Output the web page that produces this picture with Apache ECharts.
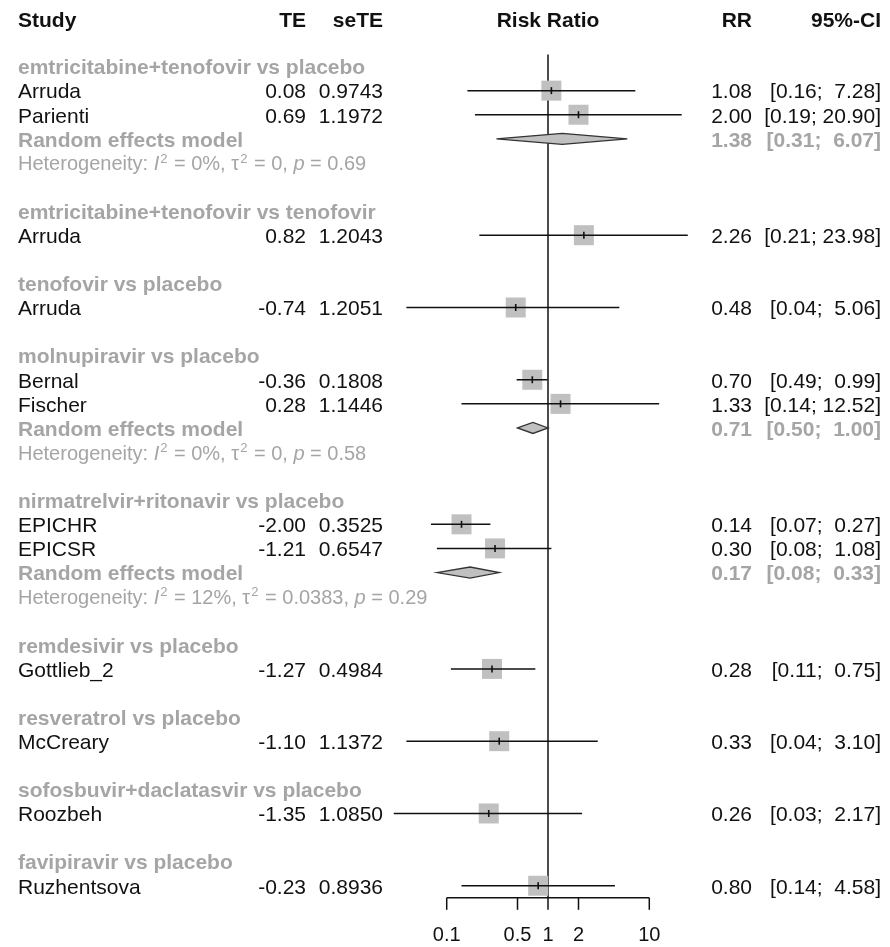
<!DOCTYPE html>
<html>
<head>
<meta charset="utf-8">
<title>Risk Ratio forest plot</title>
<script src="https://cdn.jsdelivr.net/npm/echarts@6/dist/echarts.min.js"></script>
<style>
    html, body { margin: 0; padding: 0; background: #fff; }
    #chart { width: 890px; height: 947px; }
</style>
</head>
<body>
<div id="chart"></div>
<script>
// comparisons, in plotting order
var groupNames = [
    'emtricitabine+tenofovir vs placebo',
    'emtricitabine+tenofovir vs tenofovir',
    'tenofovir vs placebo',
    'molnupiravir vs placebo',
    'nirmatrelvir+ritonavir vs placebo',
    'remdesivir vs placebo',
    'resveratrol vs placebo',
    'sofosbuvir+daclatasvir vs placebo',
    'favipiravir vs placebo'
];

// single studies
var studyNames = ['Arruda', 'Parienti', 'Arruda', 'Arruda', 'Bernal', 'Fischer', 'EPICHR', 'EPICSR', 'Gottlieb_2', 'McCreary', 'Roozbeh', 'Ruzhentsova'];
var studyGroup = [0, 0, 1, 2, 3, 3, 4, 4, 5, 6, 7, 8];
var studyTE = [0.08, 0.69, 0.82, -0.74, -0.36, 0.28, -2.00, -1.21, -1.27, -1.10, -1.35, -0.23];
var studySeTE = [0.9743, 1.1972, 1.2043, 1.2051, 0.1808, 1.1446, 0.3525, 0.6547, 0.4984, 1.1372, 1.0850, 0.8936];
var studyRR = [1.08, 2.00, 2.26, 0.48, 0.70, 1.33, 0.14, 0.30, 0.28, 0.33, 0.26, 0.80];
var studyLower = [0.16, 0.19, 0.21, 0.04, 0.49, 0.14, 0.07, 0.08, 0.11, 0.04, 0.03, 0.14];
var studyUpper = [7.28, 20.90, 23.98, 5.06, 0.99, 12.52, 0.27, 1.08, 0.75, 3.10, 2.17, 4.58];

// random effects models (only for comparisons with 2 studies)
var pooledGroup = [0, 3, 4];
var pooledRR = [1.38, 0.71, 0.17];
var pooledLower = [0.31, 0.50, 0.08];
var pooledUpper = [6.07, 1.00, 0.33];
var hetI2 = ['0%', '0%', '12%'];
var hetTau2 = ['0', '0', '0.0383'];
var hetP = ['0.69', '0.58', '0.29'];

// x axis
var tickValues = [0.1, 0.5, 1, 2, 10];
var tickLabels = ['0.1', '0.5', '1', '2', '10'];
var nullEffect = 1;

var FONT = '"Liberation Sans", Arial, sans-serif';
var BLACK = '#111111';
var GREY = '#a5a5a5';
var SQUARE = '#c0c0c0';

// build the list of rows (header, studies, pooled, heterogeneity, blank)
var rows = [];
groupNames.forEach(function (g, gi) {
    rows.push({type: 'group', g: gi});
    studyGroup.forEach(function (sg, si) {
        if (sg === gi) rows.push({type: 'study', s: si});
    });
    var pi = pooledGroup.indexOf(gi);
    if (pi >= 0) {
        rows.push({type: 'pooled', p: pi});
        rows.push({type: 'het', p: pi});
    }
    if (gi < groupNames.length - 1) rows.push({type: 'blank'});
});
var yMin = -0.5, yMax = rows.length - 0.5;

function pad(s, n) {
    while (s.length < n) s = ' ' + s;
    return s;
}
function ciText(lo, hi) {
    return '[' + lo.toFixed(2) + '; ' + pad(hi.toFixed(2), 5) + ']';
}

var studyData = [], pooledData = [];
rows.forEach(function (r, i) {
    if (r.type === 'study') studyData.push([studyRR[r.s], i, studyLower[r.s], studyUpper[r.s]]);
    if (r.type === 'pooled') pooledData.push([pooledRR[r.p], i, pooledLower[r.p], pooledUpper[r.p]]);
});

function txt(x, y, text, align, color, bold, size) {
    return {
        type: 'text', x: x, y: y,
        style: {
            text: text, x: 0, y: 0, align: align, verticalAlign: 'middle',
            fill: color, fontFamily: FONT, fontSize: size || 21,
            fontWeight: bold ? 'bold' : 'normal'
        }
    };
}

var COL_STUDY = 18, COL_TE = 306, COL_SE = 383, COL_RR = 752, COL_CI = 881;

function renderRow(params, api) {
    var r = rows[params.dataIndex];
    var y = api.coord([nullEffect, api.value(1)])[1] + 2;
    var ch = [];
    if (r.type === 'group') {
        ch.push(txt(COL_STUDY, y, groupNames[r.g], 'left', GREY, true));
    } else if (r.type === 'study') {
        var s = r.s;
        ch.push(txt(COL_STUDY, y, studyNames[s], 'left', BLACK));
        ch.push(txt(COL_TE, y, studyTE[s].toFixed(2), 'right', BLACK));
        ch.push(txt(COL_SE, y, studySeTE[s].toFixed(4), 'right', BLACK));
        ch.push(txt(COL_RR, y, studyRR[s].toFixed(2), 'right', BLACK));
        ch.push(txt(COL_CI, y, ciText(studyLower[s], studyUpper[s]), 'right', BLACK));
    } else if (r.type === 'pooled') {
        var p = r.p;
        ch.push(txt(COL_STUDY, y, 'Random effects model', 'left', GREY, true));
        ch.push(txt(COL_RR, y, pooledRR[p].toFixed(2), 'right', GREY, true));
        ch.push(txt(COL_CI, y, ciText(pooledLower[p], pooledUpper[p]), 'right', GREY, true));
    } else if (r.type === 'het') {
        ch.push({
            type: 'text', x: COL_STUDY, y: y,
            style: {
                text: '{n|Heterogeneity: }{i|I}{s|2}{n| = ' + hetI2[r.p] + ', \u03c4}{s|2}{n| = ' + hetTau2[r.p] + ', }{i|p}{n| = ' + hetP[r.p] + '}',
                x: 0, y: 0, align: 'left', verticalAlign: 'middle',
                fill: GREY, fontFamily: FONT, fontSize: 20,
                rich: {
                    n: {fill: GREY, fontFamily: FONT, fontSize: 20},
                    i: {fill: GREY, fontFamily: FONT, fontSize: 20, fontStyle: 'italic'},
                    s: {fill: GREY, fontFamily: FONT, fontSize: 13, padding: [0, 1, 12, 1]}
                }
            }
        });
    }
    return {type: 'group', children: ch};
}

function renderStudy(params, api) {
    var row = api.value(1);
    var est = api.coord([api.value(0), row]);
    var lo = api.coord([api.value(2), row]);
    var hi = api.coord([api.value(3), row]);
    var s = 20;
    return {
        type: 'group',
        children: [
            {type: 'rect', shape: {x: est[0] - s / 2, y: est[1] - s / 2, width: s, height: s}, style: {fill: SQUARE}},
            {type: 'line', shape: {x1: lo[0], y1: lo[1], x2: hi[0], y2: hi[1]}, style: {stroke: BLACK, lineWidth: 1.5}},
            {type: 'line', shape: {x1: est[0], y1: est[1] - 3.5, x2: est[0], y2: est[1] + 3.5}, style: {stroke: BLACK, lineWidth: 1.6}}
        ]
    };
}

function renderDiamond(params, api) {
    var row = api.value(1);
    var est = api.coord([api.value(0), row]);
    var lo = api.coord([api.value(2), row]);
    var hi = api.coord([api.value(3), row]);
    var h = 5.5;
    return {
        type: 'polygon',
        shape: {points: [[lo[0], est[1]], [est[0], est[1] - h], [hi[0], est[1]], [est[0], est[1] + h]]},
        style: {fill: SQUARE, stroke: '#333333', lineWidth: 1.3}
    };
}

function renderAxis(params, api) {
    var p = api.coord([api.value(0), yMax]);
    var ch = [
        {type: 'line', shape: {x1: p[0], y1: p[1], x2: p[0], y2: p[1] + 12}, style: {stroke: BLACK, lineWidth: 1.5}},
        txt(p[0], p[1] + 38, tickLabels[params.dataIndex], 'center', BLACK, false, 20)
    ];
    if (params.dataIndex === 0) {
        var last = api.coord([tickValues[tickValues.length - 1], yMax]);
        ch.push({type: 'line', shape: {x1: p[0], y1: p[1], x2: last[0], y2: last[1]}, style: {stroke: BLACK, lineWidth: 1.5}});
    }
    return {type: 'group', children: ch};
}

var myChart = echarts.init(document.getElementById('chart'));

myChart.setOption({
    animation: false,
    backgroundColor: '#ffffff',
    textStyle: {fontFamily: FONT},
    grid: {left: 375.9, width: 344.2, top: 54.5, height: 843.3},
    xAxis: {
        type: 'log', logBase: 10, min: 0.02, max: 50,
        axisLine: {show: false}, axisTick: {show: false}, axisLabel: {show: false}, splitLine: {show: false}
    },
    yAxis: {
        type: 'value', inverse: true, min: yMin, max: yMax,
        axisLine: {show: false}, axisTick: {show: false}, axisLabel: {show: false}, splitLine: {show: false}
    },
    graphic: [
        txt(COL_STUDY, 21, 'Study', 'left', BLACK, true),
        txt(COL_TE, 21, 'TE', 'right', BLACK, true),
        txt(COL_SE, 21, 'seTE', 'right', BLACK, true),
        txt(548, 21, 'Risk Ratio', 'center', BLACK, true),
        txt(COL_RR, 21, 'RR', 'right', BLACK, true),
        txt(COL_CI, 21, '95%-CI', 'right', BLACK, true)
    ],
    series: [
        {
            name: 'null effect', type: 'line', symbol: 'none', silent: true,
            data: [[nullEffect, yMin], [nullEffect, yMax]],
            lineStyle: {color: BLACK, width: 1.5}, z: 1
        },
        {
            name: 'table', type: 'custom', clip: false, silent: true,
            data: rows.map(function (r, i) { return [nullEffect, i]; }),
            encode: {x: 0, y: 1},
            renderItem: renderRow, z: 3
        },
        {
            name: 'studies', type: 'custom', clip: false, silent: true,
            data: studyData, encode: {x: 0, y: 1},
            renderItem: renderStudy, z: 2
        },
        {
            name: 'pooled', type: 'custom', clip: false, silent: true,
            data: pooledData, encode: {x: 0, y: 1},
            renderItem: renderDiamond, z: 2
        },
        {
            name: 'axis', type: 'custom', clip: false, silent: true,
            data: tickValues.map(function (v) { return [v, yMax]; }),
            encode: {x: 0, y: 1},
            renderItem: renderAxis, z: 2
        }
    ]
});
</script>
</body>
</html>
